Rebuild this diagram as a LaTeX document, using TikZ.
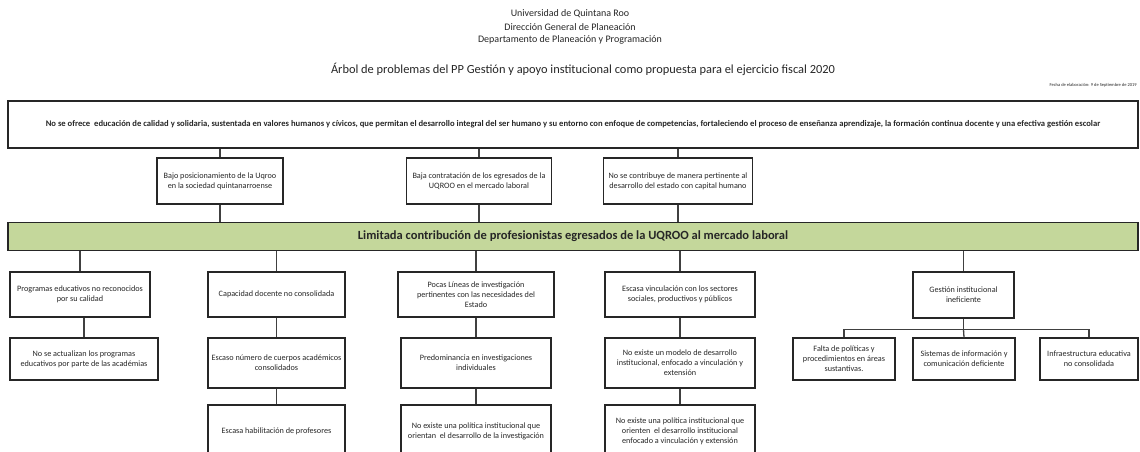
\documentclass[tikz,border=0pt]{standalone}
\usepackage{fontspec}
\setmainfont{Carlito}
\usetikzlibrary{positioning}

\begin{document}
\begin{tikzpicture}[x=1pt,y=-1pt,semithick]
  \tikzstyle{every node}=[align=center,inner sep=1pt,text=black!85]
  \tikzstyle{head}=[font=\fontsize{10}{12}\selectfont]
  \tikzstyle{box}=[draw=black!85,line width=1.2pt,font=\fontsize{8.2}{10}\selectfont]
  \tikzstyle{link}=[draw=black!75,line width=1.3pt]
  \definecolor{barfill}{RGB}{196,215,155}

  \useasboundingbox (0,0) rectangle (1140,451);

  % encabezado
  \node[head] (uni)  at (570,14) {Universidad de Quintana Roo};
  \node[head] (dir)  at (570,27) {Dirección General de Planeación};
  \node[head] (dep)  at (570,40) {Departamento de Planeación y Programación};
  \node[head,font=\fontsize{12.4}{14}\selectfont] (tit) at (583,69) {Árbol de problemas del PP Gestión y apoyo institucional como propuesta para el ejercicio fiscal 2020};
  \node[font=\fontsize{4.5}{5}\selectfont,anchor=east] (fecha) at (1138,85) {Fecha de elaboración: 9 de Septiembre de 2019};

  % fin
  \node[box,line width=2.2pt,minimum width=1130pt,minimum height=47pt,font=\fontsize{8.6}{10}\bfseries] (fin) at (573,124.5)
    {No se ofrece\ \ educación de calidad y solidaria, sustentada en valores humanos y cívicos, que permitan el desarrollo integral del ser humano y su entorno con enfoque de competencias, fortaleciendo el proceso de enseñanza aprendizaje, la formación continua docente y una efectiva gestión escolar};

  % efectos
  \node[box,minimum width=126pt,minimum height=46pt] (e1) at (220,181) {Bajo posicionamiento de la Uqroo\\en la sociedad quintanarroense};
  \node[box,minimum width=145pt,minimum height=46pt] (e2) at (479,181) {Baja contratación de los egresados de la\\UQROO en el mercado laboral};
  \node[box,minimum width=149pt,minimum height=46pt] (e3) at (678,181) {No se contribuye de manera pertinente al\\desarrollo del estado con capital humano};

  % problema central
  \node[box,line width=1.8pt,fill=barfill,minimum width=1130pt,minimum height=28pt,font=\fontsize{12.5}{14}\bfseries] (prob) at (573,236.5)
    {Limitada contribución de profesionistas egresados de la UQROO al mercado laboral};

  % causas
  \node[box,minimum width=140pt,minimum height=45pt] (c1) at (80,294.5) {Programas educativos no reconocidos\\por su calidad};
  \node[box,minimum width=137pt,minimum height=45pt] (c2) at (276.5,294.5) {Capacidad docente no consolidada};
  \node[box,minimum width=156pt,minimum height=45pt] (c3) at (476,294.5) {Pocas Líneas de investigación\\pertinentes con las necesidades del\\Estado};
  \node[box,minimum width=150pt,minimum height=45pt] (c4) at (680,294.5) {Escasa vinculación con los sectores\\sociales, productivos y públicos};
  \node[box,minimum width=101pt,minimum height=46pt] (c5) at (963.5,295) {Gestión institucional\\ineficiente};

  % subcausas
  \node[box,minimum width=148pt,minimum height=42pt] (c1a) at (84,359) {No se actualizan los programas\\educativos por parte de las académias};
  \node[box,minimum width=137pt,minimum height=50pt] (c2a) at (276.5,363) {Escaso número de cuerpos académicos\\consolidados};
  \node[box,minimum width=150pt,minimum height=50pt] (c3a) at (476,363) {Predominancia en investigaciones\\individuales};
  \node[box,minimum width=150pt,minimum height=50pt] (c4a) at (680,363) {No existe un modelo de desarrollo\\institucional, enfocado a vinculación y\\extensión};
  \node[box,minimum width=102pt,minimum height=42pt] (g1) at (844,359) {Falta de políticas y\\procedimientos en áreas\\sustantivas.};
  \node[box,minimum width=102pt,minimum height=42pt] (g2) at (964,359) {Sistemas de información y\\comunicación deficiente};
  \node[box,minimum width=98pt,minimum height=42pt] (g3) at (1089,359) {Infraestructura educativa\\no consolidada};

  \node[box,minimum width=137pt,minimum height=53pt] (c2b) at (276.5,431.5) {Escasa habilitación de profesores};
  \node[box,minimum width=150pt,minimum height=53pt] (c3b) at (476,431.5) {No existe una política institucional que\\orientan\ \ el desarrollo de la investigación};
  \node[box,minimum width=150pt,minimum height=53pt] (c4b) at (680,431.5) {No existe una política institucional que\\orienten\ \ el desarrollo institucional\\enfocado a vinculación y extensión};

  % conectores
  \path[link]
  (fin.south -| e1.north) edge (e1.north)
  (fin.south -| e2.north) edge (e2.north)
  (fin.south -| e3.north) edge (e3.north)
  (e1.south) edge (e1.south |- prob.north)
  (e2.south) edge (e2.south |- prob.north)
  (e3.south) edge (e3.south |- prob.north)
  (prob.south -| c1.north) edge (c1.north)
  (prob.south -| c2.north) edge (c2.north)
  (prob.south -| c3.north) edge (c3.north)
  (prob.south -| c4.north) edge (c4.north)
  (prob.south -| c5.north) edge (c5.north)
  (c1.south -| c1a.north) edge (c1a.north)
  (c2.south) edge (c2a.north)
  (c3.south) edge (c3a.north)
  (c4.south) edge (c4a.north)
  (c2a.south) edge (c2b.north)
  (c3a.south) edge (c3b.north)
  (c4a.south) edge (c4b.north);

  \draw[link] (c5.south) -- ++(0,11) coordinate (gj);
  \draw[link] (g1.north) |- (gj) -| (g3.north);
  \draw[link] (gj) -- (g2.north);
\end{tikzpicture}
\end{document}
